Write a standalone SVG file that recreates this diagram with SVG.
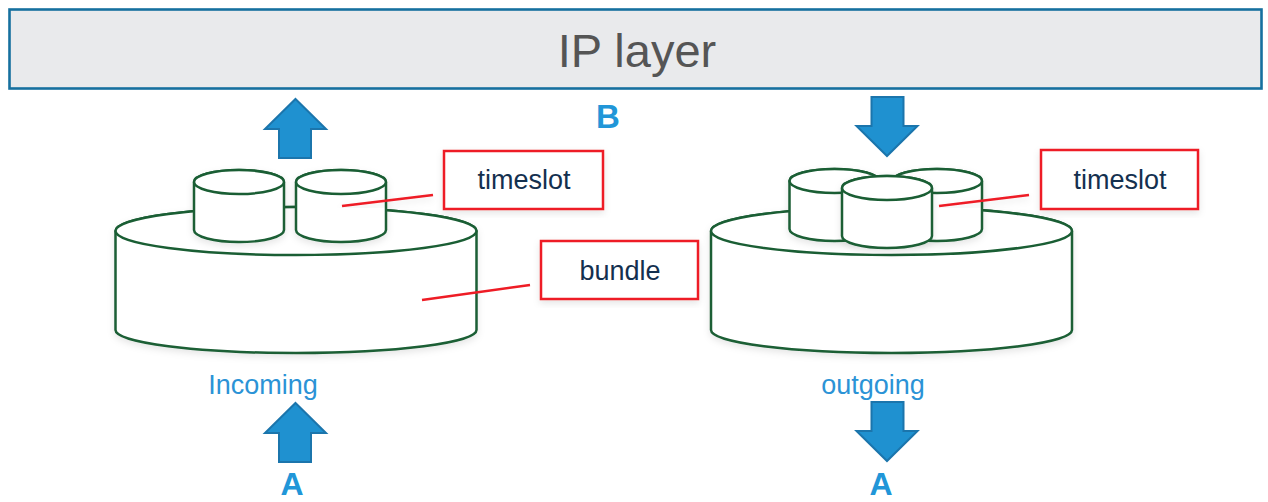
<svg xmlns="http://www.w3.org/2000/svg" width="1268" height="502" viewBox="0 0 1268 502">
<defs>
<filter id="sh" x="-10%" y="-10%" width="120%" height="125%"><feDropShadow dx="0" dy="3" stdDeviation="3.5" flood-color="#000" flood-opacity="0.1"/></filter>
<path id="bigcyl" d="M0,0 A180.5,24 0 0 1 361,0 V99 A180.5,23 0 0 1 0,99 Z"/>
<path id="smallcyl" d="M0,0 A45,12 0 0 1 90,0 V48 A45,12 0 0 1 0,48 Z"/>
<polygon id="up" points="31.5,0 62,30 47,30 47,59 15,59 15,30 1,30"/>
<polygon id="down" points="16,0 48,0 48,29 62,29 31.5,59 1,29 16,29"/>
</defs>
<style>
text{font-family:"Liberation Sans",Arial,sans-serif}
.cyl{fill:#fff;stroke:#1a5e34;stroke-width:2.5;stroke-linejoin:round}
.cap{fill:#fff;stroke:#1a5e34;stroke-width:2.5}
.arrow{fill:#1f91d0;stroke:#1b75ac;stroke-width:2}
.box{fill:#fff;stroke:#ee1c25;stroke-width:2.5;filter:url(#sh)}
.lead{fill:none;stroke:#ee1c25;stroke-width:2.5}
.lbl{font-size:27px;fill:#14304f;text-anchor:middle}
.blue{font-size:27px;fill:#2b93d6;text-anchor:middle}
.big{font-size:33px;font-weight:700;fill:#2196d8;text-anchor:middle}
.low{font-size:32px}
</style>
<rect width="1268" height="502" fill="#fff"/>
<g id="ip-layer">
<rect x="9.5" y="9.5" width="1252" height="79" fill="#e9eaec" stroke="#16709f" stroke-width="2.6"/>
<text x="637" y="67" font-size="47" fill="#555" text-anchor="middle">IP layer</text>
</g>
<g id="bundle-in">
<g filter="url(#sh)"><use href="#bigcyl" x="115.5" y="231" class="cyl"/></g>
<ellipse cx="296" cy="231" rx="180.5" ry="24" class="cap"/>
</g>
<g id="slot-in-1">
<g filter="url(#sh)"><use href="#smallcyl" x="194" y="182" class="cyl"/></g>
<ellipse cx="239" cy="182" rx="45" ry="12" class="cap"/>
</g>
<g id="slot-in-2">
<g filter="url(#sh)"><use href="#smallcyl" x="296" y="182" class="cyl"/></g>
<ellipse cx="341" cy="182" rx="45" ry="12" class="cap"/>
</g>
<g id="bundle-out">
<g filter="url(#sh)"><use href="#bigcyl" x="711" y="231" class="cyl"/></g>
<ellipse cx="891.5" cy="231" rx="180.5" ry="24" class="cap"/>
</g>
<g id="slot-out-1">
<g filter="url(#sh)"><use href="#smallcyl" x="789.5" y="181" class="cyl"/></g>
<ellipse cx="834.5" cy="181" rx="45" ry="12" class="cap"/>
</g>
<g id="slot-out-2">
<g filter="url(#sh)"><use href="#smallcyl" x="892" y="181" class="cyl"/></g>
<ellipse cx="937" cy="181" rx="45" ry="12" class="cap"/>
</g>
<g id="slot-out-3">
<g filter="url(#sh)"><use href="#smallcyl" x="842" y="188" class="cyl"/></g>
<ellipse cx="887" cy="188" rx="45" ry="12" class="cap"/>
</g>
<g id="connectors">
<line x1="342" y1="206" x2="433" y2="195" class="lead" filter="url(#sh)"/>
<line x1="422" y1="300" x2="530" y2="285" class="lead"/>
<line x1="939" y1="206" x2="1029" y2="195" class="lead" filter="url(#sh)"/>
</g>
<g id="arrow-up-top"><use href="#up" x="264" y="99" class="arrow"/></g>
<g id="arrow-down-top"><use href="#down" x="855.5" y="97" class="arrow"/></g>
<g id="arrow-up-bottom"><use href="#up" x="264" y="403" class="arrow"/></g>
<g id="arrow-down-bottom"><use href="#down" x="855.5" y="402" class="arrow"/></g>
<g id="timeslot-in"><rect x="444" y="151" width="159" height="58" class="box"/><text x="524" y="189" class="lbl">timeslot</text></g>
<g id="bundle-label"><rect x="541" y="241" width="157" height="58" class="box"/><text x="620" y="280" class="lbl">bundle</text></g>
<g id="timeslot-out"><rect x="1041" y="150" width="157" height="59" class="box"/><text x="1120" y="189" class="lbl">timeslot</text></g>
<g id="labels">
<text x="608" y="128" class="big">B</text>
<text x="263" y="394" class="blue">Incoming</text>
<text x="873" y="394" class="blue">outgoing</text>
<text x="292" y="495" class="big low">A</text>
<text x="881" y="495" class="big low">A</text>
</g>
</svg>
